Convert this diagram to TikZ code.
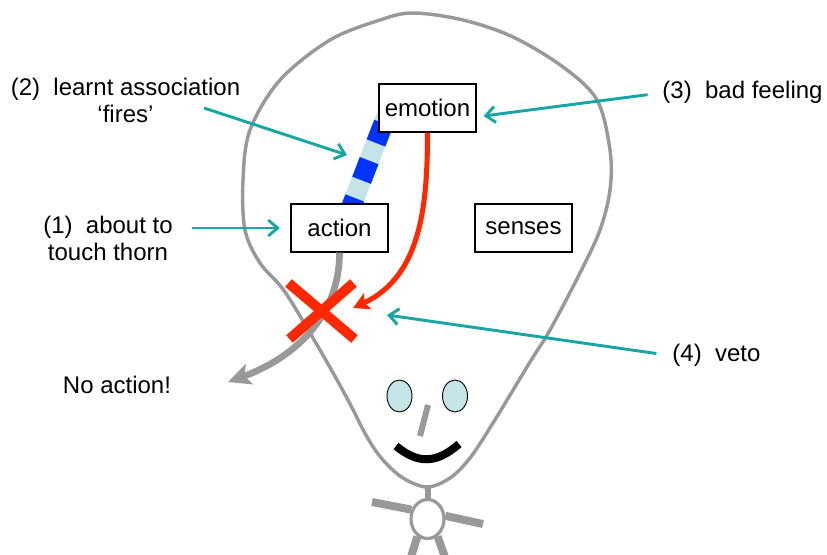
\documentclass[tikz,border=0pt]{standalone}
\usepackage{fontspec}
\setmainfont{Liberation Sans}
\usetikzlibrary{arrows.meta,calc,shapes.geometric}

\definecolor{headgray}{HTML}{999999}
\definecolor{tealink}{RGB}{24,166,164}
\definecolor{vetored}{RGB}{255,40,0}
\definecolor{linkblue}{RGB}{0,51,255}
\definecolor{linklight}{RGB}{196,228,232}

\tikzset{
  headline/.style={draw=headgray, line width=2.6pt},
  region/.style={draw=black, line width=0.8pt, fill=white, minimum width=72.75pt,
                 minimum height=36pt, inner sep=0pt},
  label/.style={inner sep=0pt, align=center},
  pointer/.style={draw=tealink, line width=2.2pt,
                  -{Straight Barb[length=7pt,width=12pt]}},
  signal/.style={draw=vetored, line width=3.8pt,
                 -{Stealth[length=12pt,width=13pt,inset=2.5pt]}},
  motor/.style={draw=headgray, line width=5pt,
                -{Stealth[length=17pt,width=16pt,inset=4pt]}},
  cross/.style={draw=vetored, line width=7.5pt},
  limb/.style={draw=headgray, line width=6pt},
  eye/.style={draw=black, line width=0.7pt, fill=linklight, ellipse,
              minimum width=18.75pt, minimum height=24pt, inner sep=0pt},
}

\begin{document}
\begin{tikzpicture}[x=0.75pt, y=-0.75pt, font=\fontsize{18}{20.25}\selectfont]
\clip (0,0) rectangle (827,555);

% head outline
\draw[headline] plot[smooth cycle, tension=0.55] coordinates {
  (413,13) (463,20) (513,37) (563,67) (597,100) (610,150) (610,190)
  (600,230) (580,273) (550,330) (530,362) (493,423) (470,458) (450,478)
  (427,487) (403,478) (383,460) (367,437) (348,400) (320,350) (285,292)
  (260,263) (245,230) (243,180) (250,130) (280,80) (330,40) (380,20)};

% boxes (positions only; drawn after the link)
\path (427.5,108) coordinate (emotionpos)
      (339.5,228) coordinate (actionpos)
      (523.5,228) coordinate (sensespos);

% learnt association link between action and emotion
\coordinate (linkstart) at ($(actionpos)+(9,-14)$);
\coordinate (linkend) at ($(emotionpos)+(-38,0)$);
\draw[draw=linklight, line width=15pt] (linkstart) -- (linkend);
\draw[draw=linkblue, line width=15pt, dash pattern=on 15.75pt off 14.25pt,
      dash phase=2.85pt] (linkstart) -- (linkend);

\node[region] (emotion) at (emotionpos) {emotion};
\node[region] (action) at (actionpos) {action};
\node[region] (senses) at (sensespos) {senses};

% veto
\coordinate (veto) at (321.5,311);
\coordinate (vetotip) at (353,308);
\coordinate (stoptip) at (228,382);

\draw[motor] (action.south) to[out=-90, in=20] (stoptip);
\draw[signal] (emotion.south) to[out=-90, in=25] (vetotip);
\draw[cross] ($(veto)+(-33,-28)$) -- ($(veto)+(33,28)$);
\draw[cross] ($(veto)+(32,-28)$) -- ($(veto)+(-32,28)$);

% labels
\node[label, anchor=north] (lbl2) at (125.5,77.5) {(2)\ \ learnt association\\‘fires’};
\node[label, anchor=north] (lbl1) at (108,215.5) {(1)\ \ about to\\touch thorn};
\node[label, anchor=base] (lbl3) at (742.5,99) {(3)\ \ bad feeling};
\node[label, anchor=base] (lbl4) at (716.5,362) {(4)\ \ veto};
\node[label, anchor=base] (noact) at (117,393) {No action!};

% pointers
\coordinate (p2start) at (204,108);
\coordinate (p2tip) at (347,155);
\coordinate (p4tip) at (387,315);
\draw[pointer, shorten <=14pt, shorten >=8pt] (lbl1.east |- action.west) -- (action.west);
\draw[pointer] (p2start) -- (p2tip);
\draw[pointer, shorten <=11pt] (lbl3.west) -- ($(emotion.east)+(7,8)$);
\draw[pointer, shorten <=12pt] (lbl4.west) -- (p4tip);

% face
\node[eye] (lefteye) at (399.5,396) {};
\node[eye] (righteye) at (455,396) {};
\draw[draw=headgray, line width=4.5pt] (428,405) -- (420,436);
\draw[draw=black, line width=6pt] (396,446) .. controls (418,464) and (436,464) .. (459,444);

% body
\node[draw=headgray, line width=2.4pt, ellipse, minimum width=24.75pt,
      minimum height=29.25pt, inner sep=0pt] (body) at (427.5,519) {};
\draw[draw=headgray, line width=4.5pt] (427.5,486) -- (body.north);
\draw[limb] (372,502) -- (body.150);
\draw[limb] (483,524) -- (body.10);
\draw[limb] (body.240) -- (410,560);
\draw[limb] (body.300) -- (446,560);
\end{tikzpicture}
\end{document}
